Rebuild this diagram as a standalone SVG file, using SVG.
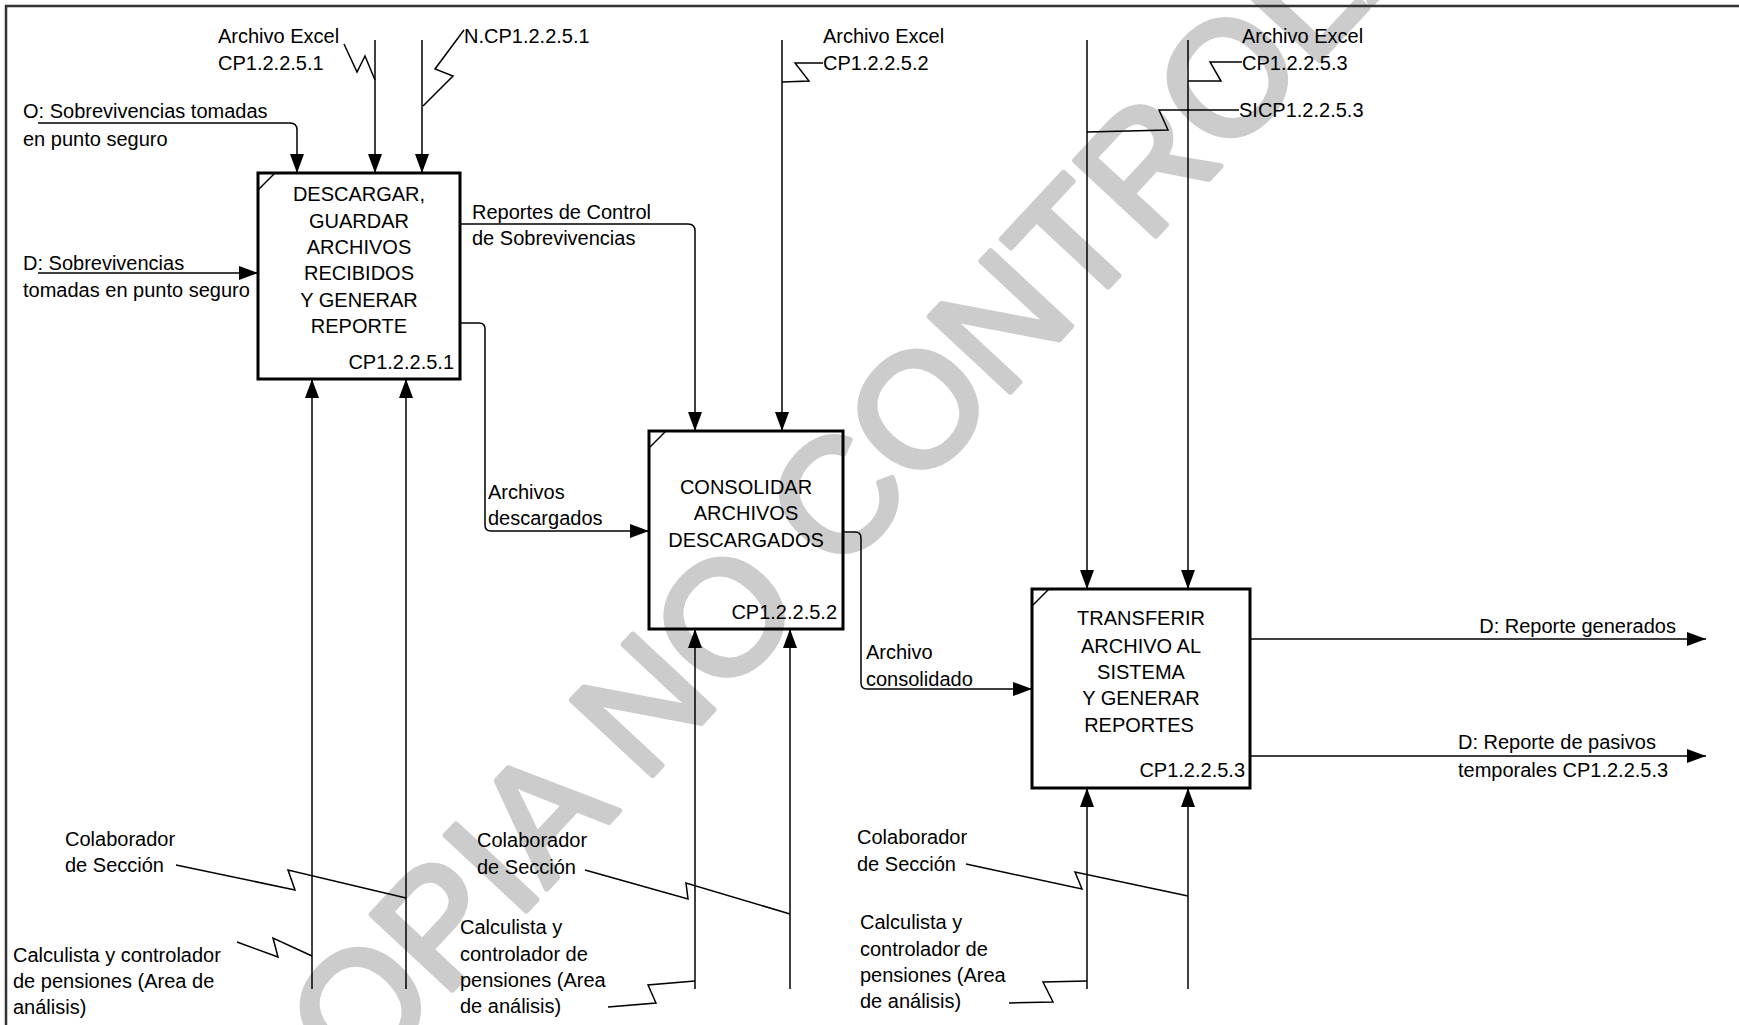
<svg xmlns="http://www.w3.org/2000/svg" width="1739" height="1025" viewBox="0 0 1739 1025">
<style>
text{font-family:"Liberation Sans",Arial,sans-serif;font-size:20px;fill:#000}
.box{fill:none;stroke:#000;stroke-width:3}
.c{fill:none;stroke:#000;stroke-width:1.5}
.a{marker-end:url(#ah)}
.mid{text-anchor:middle}
.end{text-anchor:end}
.wm{font-size:160px;fill:#cccccc;stroke:#cccccc;stroke-width:6;stroke-linejoin:round}
</style>
<defs>
<marker id="ah" markerUnits="userSpaceOnUse" markerWidth="20" markerHeight="14" refX="19" refY="7" orient="auto">
<path d="M0,0 L19,7 L0,14 z" fill="#000"/>
</marker>
</defs>
<rect width="1739" height="1025" fill="#fff"/>
<text class="wm" transform="translate(832,499) rotate(-47)" x="-871" y="57">COPIA NO CONTROLADA</text>
<path d="M6,1025 V6 H1739" fill="none" stroke="#333" stroke-width="2.5"/>

<g id="connectors">
<path class="c a" d="M375,40 V173"/>
<path class="c a" d="M422,40 V173"/>
<path class="c" d="M344,44 L357,72 L365,56 L375,80"/>
<path class="c" d="M464,30 L435,69 L453,76 L423,106"/>
<path class="c a" d="M38,123 H290 Q297,123 297,130 V173"/>
<path class="c a" d="M38,273 H258"/>
<path class="c a" d="M460,224 H688 Q695,224 695,231 V431"/>
<path class="c a" d="M460,323 H479 Q485,323 485,329 V525 Q485,531 491,531 H649"/>
<path class="c a" d="M782,40 V431"/>
<path class="c" d="M823,63 L795,63 L809,81 L782,82"/>
<path class="c a" d="M843,532 H855 Q861,532 861,538 V683 Q861,689 867,689 H1032"/>
<path class="c a" d="M1087,40 V589"/>
<path class="c a" d="M1188,40 V589"/>
<path class="c" d="M1242,62 L1210,62 L1221,81 L1188,81"/>
<path class="c" d="M1239,110 L1159,110 L1168,130 L1087,132"/>
<path class="c a" d="M1250,639 H1706"/>
<path class="c a" d="M1250,756 H1706"/>
<path class="c a" d="M312,989 V379"/>
<path class="c a" d="M406,989 V379"/>
<path class="c a" d="M695,989 V629"/>
<path class="c a" d="M790,989 V629"/>
<path class="c a" d="M1087,989 V788"/>
<path class="c a" d="M1188,989 V788"/>
<path class="c" d="M176,865 L295,890 L288,870 L406,898"/>
<path class="c" d="M237,942 L278,957 L273,938 L312,956"/>
<path class="c" d="M585,870 L688,899 L686,883 L790,914"/>
<path class="c" d="M608,1007 L656,1003 L648,985 L695,981"/>
<path class="c" d="M966,864 L1082,889 L1075,872 L1188,896"/>
<path class="c" d="M1009,1003 L1053,1002 L1043,982 L1087,981"/>
</g>

<g id="node-CP1.2.2.5.1">
<rect class="box" x="258" y="173" width="202" height="206"/>
<path class="c" d="M258,190 L275,173"/>
<text class="mid" x="359" y="201">DESCARGAR,</text>
<text class="mid" x="359" y="228">GUARDAR</text>
<text class="mid" x="359" y="254">ARCHIVOS</text>
<text class="mid" x="359" y="280">RECIBIDOS</text>
<text class="mid" x="359" y="307">Y GENERAR</text>
<text class="mid" x="359" y="333">REPORTE</text>
<text class="end" x="454" y="369">CP1.2.2.5.1</text>
</g>

<g id="node-CP1.2.2.5.2">
<rect class="box" x="649" y="431" width="194" height="198"/>
<path class="c" d="M649,448 L666,431"/>
<text class="mid" x="746" y="494">CONSOLIDAR</text>
<text class="mid" x="746" y="520">ARCHIVOS</text>
<text class="mid" x="746" y="547">DESCARGADOS</text>
<text class="end" x="837" y="619">CP1.2.2.5.2</text>
</g>

<g id="node-CP1.2.2.5.3">
<rect class="box" x="1032" y="589" width="218" height="199"/>
<path class="c" d="M1032,606 L1049,589"/>
<text class="mid" x="1141" y="625">TRANSFERIR</text>
<text class="mid" x="1141" y="653">ARCHIVO AL</text>
<text class="mid" x="1141" y="679">SISTEMA</text>
<text class="mid" x="1141" y="705">Y GENERAR</text>
<text class="mid" x="1139" y="732">REPORTES</text>
<text class="end" x="1245" y="777">CP1.2.2.5.3</text>
</g>

<g id="labels">
<text x="218" y="43">Archivo Excel</text>
<text x="218" y="70">CP1.2.2.5.1</text>
<text x="464" y="43">N.CP1.2.2.5.1</text>
<text x="23" y="118">O: Sobrevivencias tomadas</text>
<text x="23" y="146">en punto seguro</text>
<text x="23" y="270">D: Sobrevivencias</text>
<text x="23" y="297">tomadas en punto seguro</text>
<text x="472" y="219">Reportes de Control</text>
<text x="472" y="245">de Sobrevivencias</text>
<text x="823" y="43">Archivo Excel</text>
<text x="823" y="70">CP1.2.2.5.2</text>
<text x="1242" y="43">Archivo Excel</text>
<text x="1242" y="70">CP1.2.2.5.3</text>
<text x="1239" y="117">SICP1.2.2.5.3</text>
<text x="488" y="499">Archivos</text>
<text x="488" y="525">descargados</text>
<text x="866" y="659">Archivo</text>
<text x="866" y="686">consolidado</text>
<text class="end" x="1676" y="633">D: Reporte generados</text>
<text x="1458" y="749">D: Reporte de pasivos</text>
<text x="1458" y="777">temporales CP1.2.2.5.3</text>
<text x="65" y="846">Colaborador</text>
<text x="65" y="872">de Sección</text>
<text x="13" y="962">Calculista y  controlador</text>
<text x="13" y="988">de pensiones (Area de</text>
<text x="13" y="1014">análisis)</text>
<text x="477" y="847">Colaborador</text>
<text x="477" y="874">de Sección</text>
<text x="460" y="934">Calculista y</text>
<text x="460" y="961">controlador de</text>
<text x="460" y="987">pensiones (Area</text>
<text x="460" y="1013">de análisis)</text>
<text x="857" y="844">Colaborador</text>
<text x="857" y="871">de Sección</text>
<text x="860" y="929">Calculista y</text>
<text x="860" y="956">controlador de</text>
<text x="860" y="982">pensiones (Area</text>
<text x="860" y="1008">de análisis)</text>
</g>
</svg>
